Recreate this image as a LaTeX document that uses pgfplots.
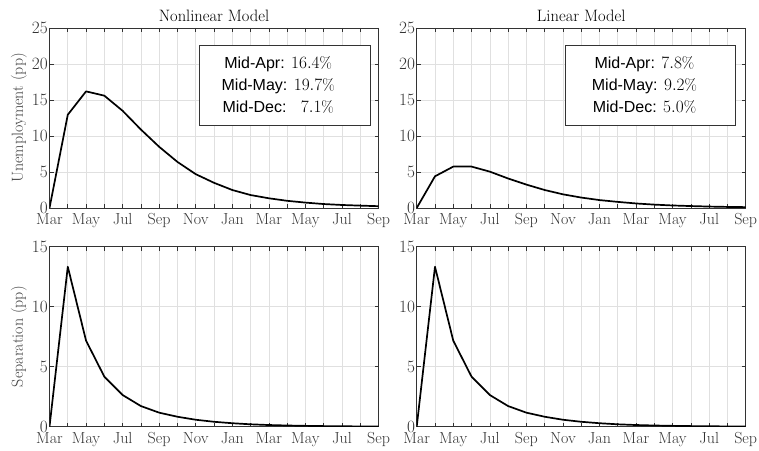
\documentclass[border=0pt]{standalone}
\usepackage{fontspec}
\usepackage{pgfplots}
\usepackage{pgfplotstable}
\pgfplotsset{compat=1.18}
\newfontfamily\hel{Liberation Sans}

\pgfplotstableread{
x y
0 0
1 12.95
2 16.2
3 15.6
4 13.5
5 10.9
6 8.5
7 6.4
8 4.7
9 3.5
10 2.5
11 1.8
12 1.35
13 1.0
14 0.75
15 0.55
16 0.42
17 0.33
18 0.25
}\unl

\pgfplotstableread{
x y
0 0
1 4.4
2 5.75
3 5.75
4 5.05
5 4.1
6 3.25
7 2.5
8 1.9
9 1.45
10 1.1
11 0.85
12 0.63
13 0.47
14 0.35
15 0.27
16 0.2
17 0.15
18 0.12
}\ulin

\pgfplotstableread{
x y
0 0
1 13.33
2 7.17
3 4.17
4 2.64
5 1.72
6 1.17
7 0.83
8 0.58
9 0.41
10 0.29
11 0.2
12 0.14
13 0.1
14 0.07
15 0.05
16 0.035
17 0.025
18 0.018
}\sep

\pgfplotsset{
  mstyle/.style={
    width=329pt, height=180pt, scale only axis,
    xmin=0, xmax=18, xtick={0,...,18},
    xticklabels={Mar,,May,,Jul,,Sep,,Nov,,Jan,,Mar,,May,,Jul,,Sep},
    xtick pos=both, ytick pos=both,
    tick align=inside,
    major tick length=4pt,
    grid=major,
    major grid style={black!12, line width=0.6pt},
    axis line style={black!80, line width=0.8pt},
    tick style={black!80, line width=0.6pt},
    ticklabel style={font=\fontsize{16}{18}\selectfont, text=black!80},
    yticklabel style={inner sep=1.5pt},
    xticklabel style={yshift=-2pt},
    label style={font=\fontsize{16}{18}\selectfont, text=black!75},
    title style={font=\fontsize{16.5}{19}\selectfont, yshift=-3pt},
  },
  curve/.style={black, line width=1.7pt, no marks, line join=round},
}

\begin{document}
\begin{tikzpicture}
\useasboundingbox (0,0) rectangle (759pt,450pt);

\begin{axis}[mstyle, at={(49.5pt,242pt)}, anchor=south west,
  ymin=0, ymax=25, ytick={0,5,...,25},
  title={Nonlinear Model}, ylabel={Unemployment (pp)}]
  \addplot[curve] table[x=x,y=y] {\unl};
  \draw[black!80, line width=0.7pt, fill=white] (axis cs:8.18,11.53) rectangle (axis cs:17.54,22.64);
  \node[align=center, inner sep=0pt, font=\fontsize{16}{22.3}\selectfont] at (axis cs:12.51,17.1)
    {{\hel Mid-Apr:} $16.4\%$\\ {\hel Mid-May:} $19.7\%$\\ {\hel Mid-Dec:} \hphantom{$1$}$7.1\%$};
\end{axis}

\begin{axis}[mstyle, at={(416.7pt,242pt)}, anchor=south west,
  ymin=0, ymax=25, ytick={0,5,...,25},
  title={Linear Model}]
  \addplot[curve] table[x=x,y=y] {\ulin};
  \draw[black!80, line width=0.7pt, fill=white] (axis cs:8.11,11.53) rectangle (axis cs:17.41,22.64);
  \node[align=center, inner sep=0pt, font=\fontsize{16}{22.3}\selectfont] at (axis cs:12.46,17.1)
    {{\hel Mid-Apr:} $7.8\%$\\ {\hel Mid-May:} $9.2\%$\\ {\hel Mid-Dec:} $5.0\%$};
\end{axis}

\begin{axis}[mstyle, at={(49.5pt,23.3pt)}, anchor=south west,
  ymin=0, ymax=15, ytick={0,5,10,15},
  ylabel={Separation (pp)}]
  \addplot[curve] table[x=x,y=y] {\sep};
\end{axis}

\begin{axis}[mstyle, at={(416.7pt,23.3pt)}, anchor=south west,
  ymin=0, ymax=15, ytick={0,5,10,15}]
  \addplot[curve] table[x=x,y=y] {\sep};
\end{axis}
\end{tikzpicture}
\end{document}
